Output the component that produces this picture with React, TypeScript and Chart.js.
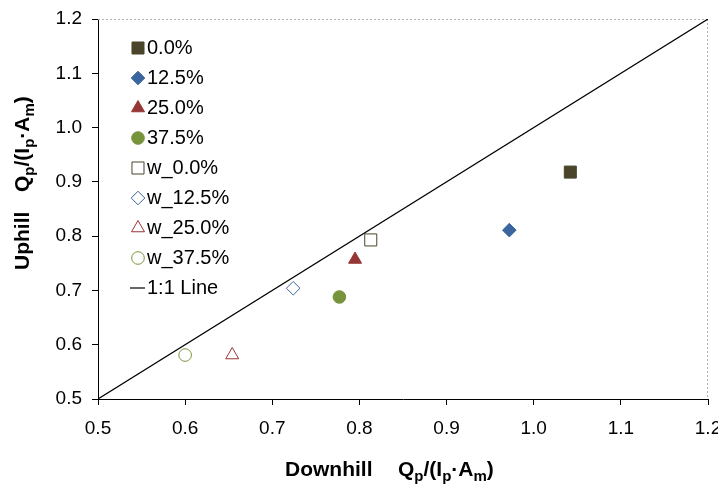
import React, { useEffect, useRef } from 'react';
import { Chart, registerables } from 'chart.js';
import { drawPoint } from 'chart.js/helpers';

Chart.register(...registerables);

// ---- data ----
const seriesNames = ['0.0%', '12.5%', '25.0%', '37.5%', 'w_0.0%', 'w_12.5%', 'w_25.0%', 'w_37.5%'];
const downhill = [1.042, 0.972, 0.795, 0.777, 0.813, 0.724, 0.654, 0.6];
const uphill = [0.918, 0.811, 0.757, 0.688, 0.793, 0.704, 0.581, 0.581];
const lineName = '1:1 Line';
const lineX = [0.5, 1.2];
const lineY = [0.5, 1.2];
const tickValues = [0.5, 0.6, 0.7, 0.8, 0.9, 1.0, 1.1, 1.2];
const xTitleMain = 'Downhill';
const yTitleMain = 'Uphill';
// [text, isSubscript]
const unitParts: [string, boolean][] = [['Q', false], ['p', true], ['/(I', false], ['p', true], ['·A', false], ['m', true], [')', false]];

// ---- styles ----
const colors = ['#4A452A', '#3B659E', '#953735', '#77933C', '#4A452A', '#3B659E', '#953735', '#77933C'];
const shapes = ['rect', 'rectRot', 'triangle', 'circle', 'rect', 'rectRot', 'triangle', 'circle'];
const radii = [8.5, 6.8, 7.5, 6.3, 8.5, 6.8, 7.5, 6.3];
const filled = [true, true, true, true, false, false, false, false];
const FONT = '"Liberation Sans", Arial, sans-serif';

function drawRich(ctx: CanvasRenderingContext2D, x: number, y: number) {
  let cx = x;
  for (const [t, sub] of unitParts) {
    ctx.font = `bold ${sub ? 15 : 21}px ${FONT}`;
    ctx.fillText(t, cx, y + (sub ? 5 : 0));
    cx += ctx.measureText(t).width;
  }
}

const extrasPlugin = {
  id: 'extras',
  beforeDatasetsDraw(chart: any) {
    const { ctx, chartArea: a } = chart;
    ctx.save();
    ctx.strokeStyle = '#b0b0b0';
    ctx.lineWidth = 1;
    ctx.setLineDash([2, 2]);
    ctx.beginPath();
    ctx.moveTo(a.left, Math.round(a.top) + 0.5);
    ctx.lineTo(a.right, Math.round(a.top) + 0.5);
    ctx.moveTo(Math.round(a.right) - 0.5, a.top);
    ctx.lineTo(Math.round(a.right) - 0.5, a.bottom);
    ctx.stroke();
    ctx.restore();
  },
  afterDraw(chart: any) {
    const { ctx } = chart;
    ctx.save();
    // legend
    ctx.textBaseline = 'middle';
    ctx.textAlign = 'left';
    const lx = 130;
    const tx = 139;
    const y0 = 40;
    const dy = 30;
    seriesNames.forEach((name, i) => {
      const y = y0 + i * dy;
      ctx.save();
      ctx.fillStyle = filled[i] ? colors[i] : '#ffffff';
      ctx.strokeStyle = colors[i];
      ctx.lineWidth = 1;
      drawPoint(ctx, { pointStyle: shapes[i] as any, rotation: 0, radius: radii[i], borderWidth: 1 }, lx, y);
      ctx.restore();
      ctx.fillStyle = '#000';
      ctx.font = `20px ${FONT}`;
      ctx.fillText(name, tx, y);
    });
    const ly = y0 + seriesNames.length * dy;
    ctx.strokeStyle = '#000';
    ctx.lineWidth = 1.2;
    ctx.beginPath();
    ctx.moveTo(122, ly);
    ctx.lineTo(137, ly);
    ctx.stroke();
    ctx.fillStyle = '#000';
    ctx.font = `20px ${FONT}`;
    ctx.fillText(lineName, tx, ly);

    // axis titles
    ctx.textBaseline = 'alphabetic';
    ctx.fillStyle = '#000';
    ctx.font = `bold 21px ${FONT}`;
    ctx.fillText(xTitleMain, 277, 468);
    drawRich(ctx, 390, 468);

    ctx.save();
    ctx.translate(21, 262);
    ctx.rotate(-Math.PI / 2);
    ctx.font = `bold 21px ${FONT}`;
    ctx.fillText(yTitleMain, 0, 0);
    drawRich(ctx, 78, 0);
    ctx.restore();
    ctx.restore();
  },
};

export default function App() {
  const ref = useRef<HTMLCanvasElement>(null);
  useEffect(() => {
    document.documentElement.style.overflow = 'hidden';
    const canvas = ref.current!;
    const datasets: any[] = seriesNames.map((name, i) => ({
      type: 'scatter',
      label: name,
      data: [{ x: downhill[i], y: uphill[i] }],
      pointStyle: shapes[i],
      pointRadius: radii[i],
      pointBackgroundColor: filled[i] ? colors[i] : 'rgba(255,255,255,0)',
      pointBorderColor: colors[i],
      pointBorderWidth: 1,
    }));
    datasets.unshift({
      type: 'line',
      label: lineName,
      data: lineX.map((x, i) => ({ x, y: lineY[i] })),
      borderColor: '#000',
      borderWidth: 1.2,
      pointRadius: 0,
      fill: false,
    });
    const tickCfg = {
      callback: (v: any) => Number(v).toFixed(1),
      font: { size: 19, family: FONT },
      color: '#000',
      autoSkip: false,
      maxRotation: 0,
    };
    const chart = new Chart(canvas, {
      type: 'scatter',
      data: { datasets },
      plugins: [extrasPlugin],
      options: {
        animation: false,
        responsive: false,
        devicePixelRatio: 1,
        layout: { padding: { top: 11, right: 18, left: 0, bottom: 0 } },
        plugins: { legend: { display: false }, tooltip: { enabled: false } },
        scales: {
          x: {
            type: 'linear',
            min: 0.5,
            max: 1.2,
            afterBuildTicks: (s: any) => { s.ticks = tickValues.map((v) => ({ value: v })); },
            ticks: { ...tickCfg, padding: 12 },
            grid: { drawOnChartArea: false, tickLength: 6, color: '#000' },
            border: { color: '#000', width: 1 },
            afterFit: (s: any) => { s.height = 85; s.paddingLeft = 0; s.paddingRight = 0; },
          },
          y: {
            type: 'linear',
            min: 0.5,
            max: 1.2,
            afterBuildTicks: (s: any) => { s.ticks = tickValues.map((v) => ({ value: v })); },
            ticks: { ...tickCfg, padding: 10 },
            grid: { drawOnChartArea: false, tickLength: 6, color: '#000' },
            border: { color: '#000', width: 1 },
            afterFit: (s: any) => { s.width = 90; s.paddingTop = 0; s.paddingBottom = 0; },
          },
        },
      } as any,
    });
    return () => chart.destroy();
  }, []);
  return (
    <div>
      <canvas ref={ref} width={718} height={476} style={{ display: 'block' }} />
    </div>
  );
}
